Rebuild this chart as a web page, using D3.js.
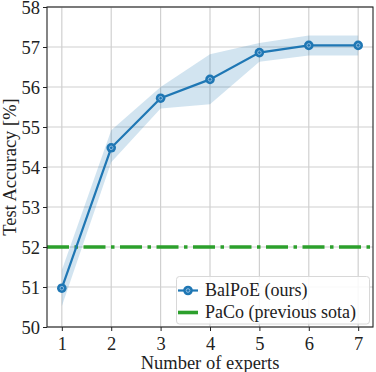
<!DOCTYPE html>
<html>
<head>
<meta charset="utf-8">
<script src="https://cdn.jsdelivr.net/npm/d3@7"></script>
<style>
  body { margin: 0; background: #fff; }
  svg text { font-family: 'Liberation Serif', 'Times New Roman', Times, 'DejaVu Serif', serif; fill: #222; }
</style>
</head>
<body>
<script>
var experts = [1, 2, 3, 4, 5, 6, 7];
var accuracy = [50.97, 54.48, 55.72, 56.19, 56.86, 57.04, 57.04];
var bandLow = [50.52, 54.12, 55.46, 55.57, 56.63, 56.79, 56.79];
var bandHigh = [51.42, 54.92, 56.0, 56.82, 57.1, 57.29, 57.29];
var pacoAccuracy = 52.0;
var yTicks = [50, 51, 52, 53, 54, 55, 56, 57, 58];
var seriesNames = ["BalPoE (ours)", "PaCo (previous sota)"];

var w = 376, h = 372;
var m = {left: 47, right: 3, top: 7, bottom: 45};
var serif = "'Liberation Serif', 'Times New Roman', Times, 'DejaVu Serif', serif";

var svg = d3.select('body').append('svg')
  .attr('width', w).attr('height', h);

var x = d3.scaleLinear().domain([0.7, 7.3]).range([m.left, w - m.right]);
var y = d3.scaleLinear().domain([50, 58]).range([h - m.bottom, m.top]);

// grid
svg.append('g').selectAll('line').data(experts).enter().append('line')
  .attr('x1', d => x(d)).attr('x2', d => x(d))
  .attr('y1', y(50)).attr('y2', y(58))
  .attr('stroke', '#d0d0d0').attr('stroke-width', 1.2);
svg.append('g').selectAll('line').data(yTicks).enter().append('line')
  .attr('x1', x(0.7)).attr('x2', x(7.3))
  .attr('y1', d => y(d)).attr('y2', d => y(d))
  .attr('stroke', '#d0d0d0').attr('stroke-width', 1.2);

// band
var area = d3.area()
  .x((d, i) => x(experts[i]))
  .y0((d, i) => y(bandLow[i]))
  .y1((d, i) => y(bandHigh[i]));
svg.append('path').datum(accuracy)
  .attr('d', area)
  .attr('fill', '#1f77b4').attr('fill-opacity', 0.2);

// PaCo line
svg.append('line')
  .attr('x1', x(0.7)).attr('x2', x(7.3))
  .attr('y1', y(pacoAccuracy)).attr('y2', y(pacoAccuracy))
  .attr('stroke', '#2ca02c').attr('stroke-width', 3.6)
  .attr('stroke-dasharray', '22,5.5,3.5,5.5');

// BalPoE line
var line = d3.line().x((d, i) => x(experts[i])).y(d => y(d));
svg.append('path').datum(accuracy)
  .attr('d', line).attr('fill', 'none')
  .attr('stroke', '#1f77b4').attr('stroke-width', 2.2);

function marker(g, cx, cy) {
  g.append('circle').attr('cx', cx).attr('cy', cy).attr('r', 4.8)
    .attr('fill', '#1f77b4');
  g.append('circle').attr('cx', cx).attr('cy', cy).attr('r', 1.8)
    .attr('fill', 'none').attr('stroke', '#8fbbe0').attr('stroke-width', 1);
}
var mk = svg.append('g');
accuracy.forEach(function(d, i) { marker(mk, x(experts[i]), y(d)); });

// axes
var xAxis = d3.axisBottom(x).tickValues(experts).tickFormat(d3.format('d'))
  .tickSize(4).tickPadding(5);
var yAxis = d3.axisLeft(y).tickValues(yTicks).tickFormat(d3.format('d'))
  .tickSize(4).tickPadding(3);
var gx = svg.append('g').attr('transform', 'translate(0,' + y(50) + ')').call(xAxis);
var gy = svg.append('g').attr('transform', 'translate(' + x(0.7) + ',0)').call(yAxis);
[gx, gy].forEach(function(g) {
  g.attr('font-family', serif).attr('font-size', 18.5);
  g.select('.domain').remove();
  g.selectAll('.tick line').attr('stroke', '#222').attr('stroke-width', 1);
  g.selectAll('.tick text').attr('fill', '#222');
});
gx.selectAll('.tick text').attr('dy', '0.78em');
gy.selectAll('.tick text').attr('dy', '0.34em');

// frame
svg.append('rect')
  .attr('x', x(0.7)).attr('y', y(58))
  .attr('width', x(7.3) - x(0.7)).attr('height', y(50) - y(58))
  .attr('fill', 'none').attr('stroke', '#222').attr('stroke-width', 1.1);

// labels
svg.append('text')
  .attr('x', (x(0.7) + x(7.3)) / 2).attr('y', 369)
  .attr('text-anchor', 'middle').attr('font-family', serif).attr('font-size', 18.5)
  .text('Number of experts');
svg.append('text')
  .attr('transform', 'translate(16,' + (y(50) + y(58)) / 2 + ') rotate(-90)')
  .attr('text-anchor', 'middle').attr('font-family', serif).attr('font-size', 18.5)
  .text('Test Accuracy [%]');

// legend
var lg = svg.append('g');
lg.append('rect')
  .attr('x', 176.5).attr('y', 276.5).attr('width', 193).attr('height', 47.5)
  .attr('rx', 3).attr('fill', '#fff').attr('fill-opacity', 0.85)
  .attr('stroke', '#d8d8d8').attr('stroke-width', 1);
lg.append('line').attr('x1', 178).attr('x2', 198).attr('y1', 290.5).attr('y2', 290.5)
  .attr('stroke', '#1f77b4').attr('stroke-width', 2.2);
marker(lg, 188, 290.5);
lg.append('line').attr('x1', 178).attr('x2', 198).attr('y1', 312.5).attr('y2', 312.5)
  .attr('stroke', '#2ca02c').attr('stroke-width', 3.6);
lg.selectAll('text.lab').data(seriesNames).enter().append('text')
  .attr('class', 'lab')
  .attr('x', 205).attr('y', (d, i) => 290.5 + i * 22)
  .attr('dy', '0.33em').attr('font-family', serif).attr('font-size', 18)
  .text(d => d);
</script>
</body>
</html>
